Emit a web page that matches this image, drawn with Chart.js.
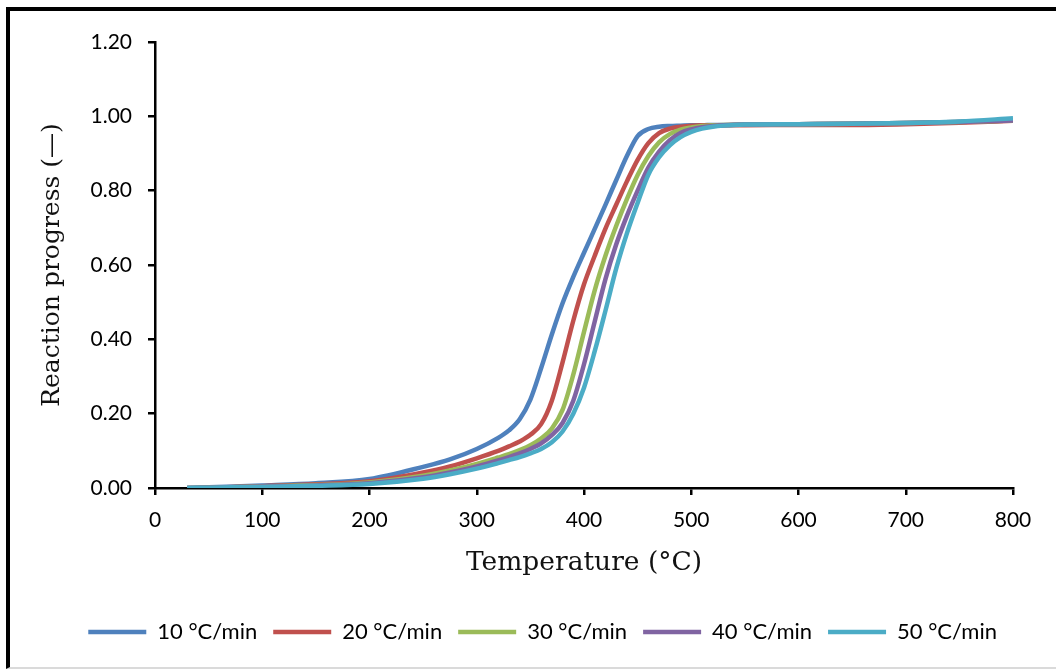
<!DOCTYPE html>
<html>
<head>
<meta charset="utf-8">
<title>Reaction progress</title>
<script src="https://cdn.jsdelivr.net/npm/chart.js@4/dist/chart.umd.min.js"></script>
<style>
  html, body { margin: 0; padding: 0; background: #fff; }
  #wrap { position: relative; width: 1056px; height: 670px; overflow: hidden; }
  #frame {
    position: absolute; left: 6px; top: 7px; width: 1100px; height: 656px;
    border-left: 4px solid #000; border-top: 4px solid #000;
    border-bottom: 2px solid #dadada;
    pointer-events: none;
  }
  canvas { position: absolute; left: 0; top: 0; }
</style>
</head>
<body>
<div id="wrap">
  <canvas id="myChart" width="1056" height="670"></canvas>
  <div id="frame"></div>
</div>
<script>
// temperature (°C) of each sample
const temps = [30, 50, 100, 150, 200, 250, 275, 300, 320, 330, 340, 350, 360, 370, 380, 390, 400, 410, 420, 430, 440, 450, 460, 470, 480, 490, 500, 510, 520, 530, 550, 600, 650, 700, 750, 800];

// reaction progress for each heating rate
const rate10 = [0.000, 0.002, 0.007, 0.013, 0.024, 0.057, 0.077, 0.105, 0.135, 0.155, 0.185, 0.238, 0.322, 0.413, 0.497, 0.568, 0.633, 0.697, 0.762, 0.828, 0.893, 0.947, 0.966, 0.972, 0.974, 0.975, 0.976, 0.976, 0.977, 0.977, 0.978, 0.979, 0.980, 0.982, 0.985, 0.989];
const rate20 = [0.000, 0.001, 0.005, 0.010, 0.018, 0.042, 0.058, 0.080, 0.100, 0.112, 0.125, 0.143, 0.172, 0.235, 0.338, 0.450, 0.548, 0.625, 0.698, 0.762, 0.825, 0.883, 0.928, 0.955, 0.967, 0.972, 0.975, 0.976, 0.976, 0.976, 0.976, 0.977, 0.977, 0.979, 0.983, 0.988];
const rate30 = [0.000, 0.001, 0.004, 0.008, 0.015, 0.033, 0.047, 0.065, 0.082, 0.091, 0.102, 0.115, 0.133, 0.160, 0.210, 0.305, 0.420, 0.532, 0.625, 0.705, 0.777, 0.842, 0.893, 0.930, 0.952, 0.964, 0.970, 0.974, 0.976, 0.977, 0.978, 0.979, 0.980, 0.982, 0.985, 0.989];
const rate40 = [0.000, 0.001, 0.004, 0.007, 0.013, 0.029, 0.042, 0.058, 0.074, 0.083, 0.093, 0.105, 0.120, 0.142, 0.175, 0.235, 0.333, 0.448, 0.562, 0.655, 0.732, 0.800, 0.862, 0.905, 0.936, 0.955, 0.965, 0.971, 0.974, 0.976, 0.978, 0.979, 0.980, 0.982, 0.985, 0.989];
const rate50 = [0.000, 0.001, 0.003, 0.006, 0.011, 0.025, 0.037, 0.052, 0.067, 0.075, 0.083, 0.093, 0.105, 0.123, 0.152, 0.200, 0.270, 0.368, 0.477, 0.590, 0.685, 0.767, 0.843, 0.890, 0.922, 0.944, 0.958, 0.967, 0.972, 0.975, 0.978, 0.979, 0.980, 0.982, 0.986, 0.995];

const rateLabels = ['10 °C/min', '20 °C/min', '30 °C/min', '40 °C/min', '50 °C/min'];
const rateColors = ['#4f81bd', '#c0504d', '#9bbb59', '#8064a2', '#4bacc6'];

const xMin = 0, xMax = 800, xStep = 100;
const yMin = 0, yMax = 1.2, yStep = 0.2;

const series = [rate10, rate20, rate30, rate40, rate50];

function toPoints(values) {
    return temps.map((t, i) => ({ x: t, y: values[i] }));
}

const tickFont = { family: 'Lato', size: 21 };

let ctx = document.getElementById('myChart').getContext('2d');
let myChart = new Chart(ctx, {
    type: 'line',
    data: {
        datasets: series.map((values, i) => ({
            label: rateLabels[i],
            data: toPoints(values),
            borderColor: rateColors[i],
            backgroundColor: rateColors[i],
            borderWidth: 4.5,
            pointRadius: 0,
            cubicInterpolationMode: 'monotone',
            order: series.length - i   // faster rates drawn on top
        }))
    },
    options: {
        responsive: false,
        animation: false,
        devicePixelRatio: 1,
        layout: { padding: { top: 42, right: 43, bottom: 17, left: 0 } },
        plugins: {
            tooltip: { enabled: false },
            legend: {
                position: 'bottom',
                align: 'end',
                labels: {
                    usePointStyle: true,
                    pointStyle: 'line',
                    pointStyleWidth: 58,
                    padding: 16,
                    color: '#000',
                    font: { family: 'Lato', size: 22 },
                    sort: (a, b) => a.datasetIndex - b.datasetIndex
                }
            }
        },
        scales: {
            x: {
                type: 'linear',
                min: xMin,
                max: xMax,
                afterFit: (scale) => { scale.height = 117; },
                ticks: { stepSize: xStep, color: '#000', font: tickFont, padding: 13, maxRotation: 0 },
                grid: { drawOnChartArea: false, drawTicks: true, tickLength: 7, color: '#000', lineWidth: 2.5 },
                border: { color: '#000', width: 2.5 },
                title: {
                    display: true,
                    text: 'Temperature (°C)',
                    color: '#111',
                    font: { family: 'DejaVu Serif', size: 26.5 },
                    padding: { top: 0, bottom: 26 }
                }
            },
            y: {
                min: yMin,
                max: yMax,
                afterFit: (scale) => { scale.width = 155; },
                ticks: { stepSize: yStep, color: '#000', font: tickFont, padding: 16, callback: (v) => v.toFixed(2) },
                grid: { drawOnChartArea: false, drawTicks: true, tickLength: 7, color: '#000', lineWidth: 2.5 },
                border: { color: '#000', width: 2.5 },
                title: {
                    display: true,
                    text: 'Reaction progress (—)',
                    color: '#111',
                    font: { family: 'DejaVu Serif', size: 25 },
                    padding: { top: 37, bottom: 0 }
                }
            }
        }
    }
});
</script>
</body>
</html>
